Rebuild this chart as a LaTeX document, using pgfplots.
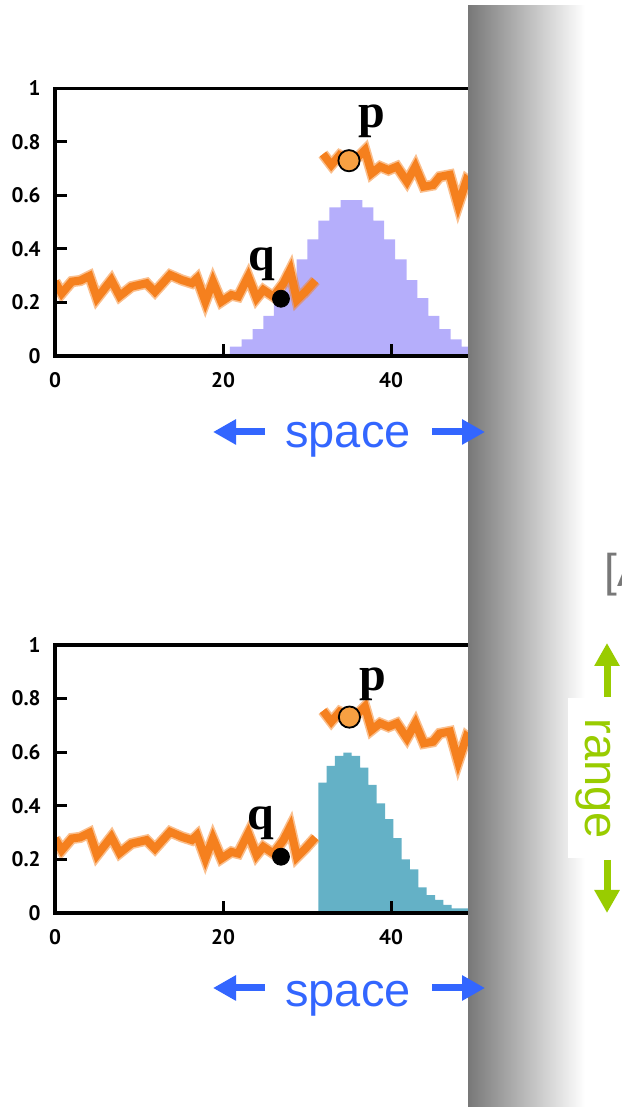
\documentclass[border=0pt]{standalone}
\usepackage{fontspec}
\setmainfont{Liberation Sans}
\newfontfamily\tickfont{PT Sans}
\newfontfamily\labfont{Liberation Serif}
\usepackage{pgfplots}
\usepackage{pgfplotstable}
\pgfplotsset{compat=1.18}
\usetikzlibrary{arrows.meta}

\definecolor{orangeline}{RGB}{245,128,30}
\definecolor{pfill}{RGB}{247,160,66}
\definecolor{lavender}{RGB}{181,174,251}
\definecolor{tealbar}{RGB}{100,177,198}
\definecolor{spaceblue}{RGB}{51,102,255}
\definecolor{rangegreen}{RGB}{153,204,0}
\definecolor{bandgray}{RGB}{120,120,120}

% orange signal, before and after the jump
\pgfplotstableread{
x y
0 0.278
0.8 0.234
2.0 0.278
3.0 0.282
4.1 0.299
5.0 0.216
6.7 0.284
7.7 0.224
9.1 0.259
10.9 0.272
11.9 0.240
13.7 0.303
15.1 0.284
16.3 0.272
16.9 0.290
17.9 0.203
18.8 0.278
19.8 0.203
21.0 0.228
21.8 0.222
23.0 0.297
24.0 0.216
24.8 0.247
26.0 0.222
27.2 0.272
28.0 0.321
28.8 0.209
29.8 0.240
31.0 0.282
}\lowline
\pgfplotstableread{
x y
31.9 0.755
32.9 0.714
33.9 0.751
35.1 0.733
36.1 0.745
36.9 0.770
37.7 0.683
38.7 0.708
39.7 0.695
40.7 0.708
41.9 0.652
42.9 0.708
43.9 0.633
45.0 0.639
45.8 0.670
47.0 0.677
48.0 0.564
49.0 0.658
50.5 0.620
52.0 0.600
}\highline
% histograms (left edge of each bin)
\pgfplotstableread{
x y
18.25 0.0075
20.83 0.035
22.22 0.062
23.53 0.100
24.80 0.150
26.07 0.216
27.38 0.284
28.77 0.361
30.04 0.436
31.35 0.506
32.66 0.556
34.01 0.583
36.59 0.556
37.90 0.506
39.17 0.436
40.48 0.361
41.87 0.284
43.13 0.216
44.44 0.150
45.75 0.100
47.10 0.062
48.41 0.035
49.72 0.015
51.00 0.005
52.00 0
}\histA
\pgfplotstableread{
x y
31.35 0.486
32.34 0.549
33.33 0.586
34.33 0.598
35.32 0.586
36.31 0.542
37.30 0.478
38.29 0.409
39.29 0.350
40.28 0.279
41.27 0.200
42.26 0.163
43.25 0.096
44.25 0.067
45.24 0.049
46.23 0.030
47.22 0.017
49.20 0.008
52.00 0
}\histB

\pgfplotsset{panel/.style={
    scale only axis, width=218.4pt, height=134pt, anchor=south west,
    xmin=0, xmax=52, ymin=0, ymax=1,
    xtick={0,20,40}, ytick={0,0.2,0.4,0.6,0.8,1},
    yticklabels={0,0.2,0.4,0.6,0.8,1},
    xtick pos=left, ytick pos=left, tick align=inside,
    major tick length=6pt,
    tick style={black, line width=1.5pt},
    axis line style={line width=1.6pt},
    axis on top,
    ticklabel style={font=\tickfont\bfseries\fontsize{10.5}{10.5}\selectfont},
    /pgf/number format/assume math mode=true,
    yticklabel style={anchor=east, inner sep=0pt, xshift=-7pt},
    xticklabel style={anchor=north, inner sep=0pt, yshift=-8pt},
}}
\pgfplotsset{signal/.style={line width=4pt, orangeline, line join=miter}}
\pgfplotsset{halo/.style={line width=5.6pt, orangeline, opacity=0.5, line join=miter}}

\begin{document}
\begin{tikzpicture}[x=0.5pt,y=0.5pt]
\useasboundingbox (0,0) rectangle (621,1107);
\clip (0,0) rectangle (621,1107);

% top panel
\begin{axis}[panel, height=133.75pt, at={(27.5pt,375.5pt)}]
\addplot[const plot, fill=lavender, draw=none] table {\histA} \closedcycle;
\addplot[halo] table {\lowline};
\addplot[halo] table {\highline};
\addplot[signal] table {\lowline};
\addplot[signal] table {\highline};
\addplot[only marks, mark=*, mark size=4.25pt, black] coordinates {(26.9,0.214)};
\addplot[only marks, mark=*, mark size=5.3pt, mark options={fill=pfill, draw=black, line width=0.9pt}] coordinates {(35.0,0.73)};
\node[anchor=base, inner sep=0pt, font=\labfont\bfseries\fontsize{24}{24}\selectfont] at (axis cs:37.7,0.856) {p};
\node[anchor=base, inner sep=0pt, font=\labfont\bfseries\fontsize{24}{24}\selectfont] at (axis cs:24.6,0.321) {q};
\end{axis}

% bottom panel
\begin{axis}[panel, at={(27.5pt,97pt)}]
\addplot[const plot, fill=tealbar, draw=none] table {\histB} \closedcycle;
\addplot[halo] table {\lowline};
\addplot[halo] table {\highline};
\addplot[signal] table {\lowline};
\addplot[signal] table {\highline};
\addplot[only marks, mark=*, mark size=4.25pt, black] coordinates {(26.9,0.21)};
\addplot[only marks, mark=*, mark size=5.3pt, mark options={fill=pfill, draw=black, line width=0.9pt}] coordinates {(35.05,0.731)};
\node[anchor=base, inner sep=0pt, font=\labfont\bfseries\fontsize{24}{24}\selectfont] at (axis cs:37.8,0.832) {p};
\node[anchor=base, inner sep=0pt, font=\labfont\bfseries\fontsize{24}{24}\selectfont] at (axis cs:24.55,0.31) {q};
\end{axis}

% grey band on the right
\shade[left color=bandgray, right color=white] (468,0) rectangle (585,1101);
\fill[white] (585,0) rectangle (621,1101);

% space arrows and labels
\foreach \yy/\bb in {675/659, 119/100} {
  \draw[spaceblue, line width=3.5pt, -{Triangle[length=11.5pt,width=12pt]}] (265,\yy) -- (213,\yy);
  \draw[spaceblue, line width=3.5pt, -{Triangle[length=11.5pt,width=12pt]}] (432,\yy) -- (485,\yy);
  \node[anchor=base, inner sep=0pt, text=spaceblue, font=\fontsize{23.5}{24}\selectfont] at (348,\bb) {space};
}

% partial label and range arrows
\node[anchor=base west, inner sep=0pt, text=bandgray, font=\fontsize{23}{24}\selectfont] at (604,520) {[A};
\fill[white] (568,249) rectangle (625,409);
\draw[rangegreen, line width=3.5pt, -{Triangle[length=11.5pt,width=12pt]}] (607,410) -- (607,464);
\draw[rangegreen, line width=3.5pt, -{Triangle[length=11.5pt,width=12pt]}] (607,247) -- (607,194);
\node[anchor=base, inner sep=0pt, rotate=-90, text=rangegreen, font=\fontsize{23.5}{24}\selectfont] at (585,328) {range};
\end{tikzpicture}
\end{document}
